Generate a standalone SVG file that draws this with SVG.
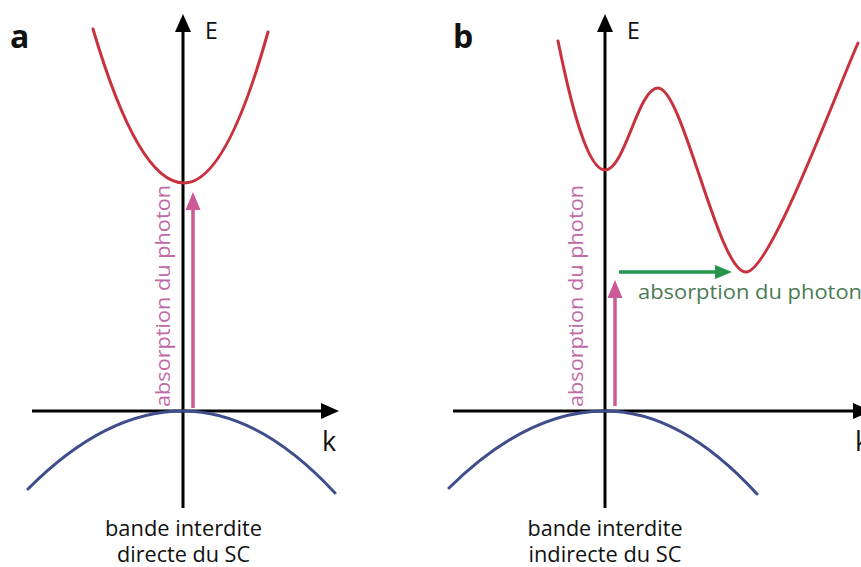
<svg xmlns="http://www.w3.org/2000/svg" width="861" height="567" viewBox="0 0 861 567">
<style>
.axis{stroke:#000;stroke-width:3;fill:none}
.cb{stroke:#c8323f;stroke-width:3;fill:none;stroke-linecap:round}
.vb{stroke:#3e4d8c;stroke-width:3;fill:none;stroke-linecap:round}
.pk{stroke:#cc5a96;stroke-width:3.5;fill:none}
.gr{stroke:#23944a;stroke-width:3.5;fill:none}
text{font-family:"Open Sans","Liberation Sans",sans-serif;fill:#111}
.lbl{font-weight:bold;font-size:32px}
.ax{font-size:23px}
.k{font-size:27px}
.cap{font-size:21px;text-anchor:middle}
.pt{font-size:20px;fill:#c168a6}
.gt{font-size:20px;fill:#4b7b56}
</style>
<defs>
<marker id="ab" markerUnits="userSpaceOnUse" markerWidth="18" markerHeight="16" refX="0" refY="8" orient="auto"><path d="M0,0 L18,8 L0,16 z" fill="#000"/></marker>
<marker id="ap" markerUnits="userSpaceOnUse" markerWidth="18" markerHeight="16" refX="0" refY="8" orient="auto"><path d="M0,0.5 L18,8 L0,15.5 z" fill="#cc5a96"/></marker>
<marker id="ag" markerUnits="userSpaceOnUse" markerWidth="18" markerHeight="14" refX="0" refY="7" orient="auto"><path d="M0,0 L17,7 L0,14 z" fill="#23944a"/></marker>
</defs>

<g id="panel-a">
  <text class="lbl" x="10" y="48">a</text>
  <g id="a-axes">
    <line class="axis" x1="183" y1="508" x2="183" y2="32" marker-end="url(#ab)"/>
    <line class="axis" x1="32" y1="411" x2="321" y2="411" marker-end="url(#ab)"/>
  </g>
  <text class="ax" x="205" y="39">E</text>
  <text class="k" x="322" y="451">k</text>
  <g id="a-conduction"><path class="cb" d="M93,29 Q138.5,183 184,183 Q226,183 268,32"/></g>
  <g id="a-valence"><path class="vb" d="M28,489 Q105.5,411 183,411 Q259,411 335,493"/></g>
  <g id="a-photon">
    <line class="pk" x1="193" y1="408" x2="193" y2="210" marker-end="url(#ap)"/>
    <text class="pt" transform="translate(170,407) rotate(-90)" textLength="222" lengthAdjust="spacingAndGlyphs">absorption du photon</text>
  </g>
  <g id="a-caption">
    <text class="cap" x="183.5" y="536" textLength="157" lengthAdjust="spacingAndGlyphs">bande interdite</text>
    <text class="cap" x="183.5" y="562" textLength="133" lengthAdjust="spacingAndGlyphs">directe du SC</text>
  </g>
</g>

<g id="panel-b">
  <text class="lbl" x="453" y="48">b</text>
  <g id="b-axes">
    <line class="axis" x1="605" y1="508" x2="605" y2="32" marker-end="url(#ab)"/>
    <line class="axis" x1="453" y1="411" x2="853" y2="411" marker-end="url(#ab)"/>
  </g>
  <text class="ax" x="627" y="39">E</text>
  <text class="k" x="855" y="451">k</text>
  <g id="b-conduction"><path class="cb" d="M558,41 C572,110 588,170 605,170 C625,170 638,88 658,88 C683,88 718,272 746,272 C770,272 835,95 858,43"/></g>
  <g id="b-valence"><path class="vb" d="M449,488 Q527,411 605,411 Q681,411 757,494"/></g>
  <g id="b-photon">
    <line class="pk" x1="615" y1="406" x2="615" y2="298" marker-end="url(#ap)"/>
    <text class="pt" transform="translate(583,407) rotate(-90)" textLength="222" lengthAdjust="spacingAndGlyphs">absorption du photon</text>
  </g>
  <g id="b-phonon">
    <line class="gr" x1="619" y1="272" x2="715" y2="272" marker-end="url(#ag)"/>
    <text class="gt" x="638" y="299" textLength="224" lengthAdjust="spacingAndGlyphs">absorption du photon</text>
  </g>
  <g id="b-caption">
    <text class="cap" x="605" y="536" textLength="155" lengthAdjust="spacingAndGlyphs">bande interdite</text>
    <text class="cap" x="605" y="562" textLength="153" lengthAdjust="spacingAndGlyphs">indirecte du SC</text>
  </g>
</g>
</svg>
